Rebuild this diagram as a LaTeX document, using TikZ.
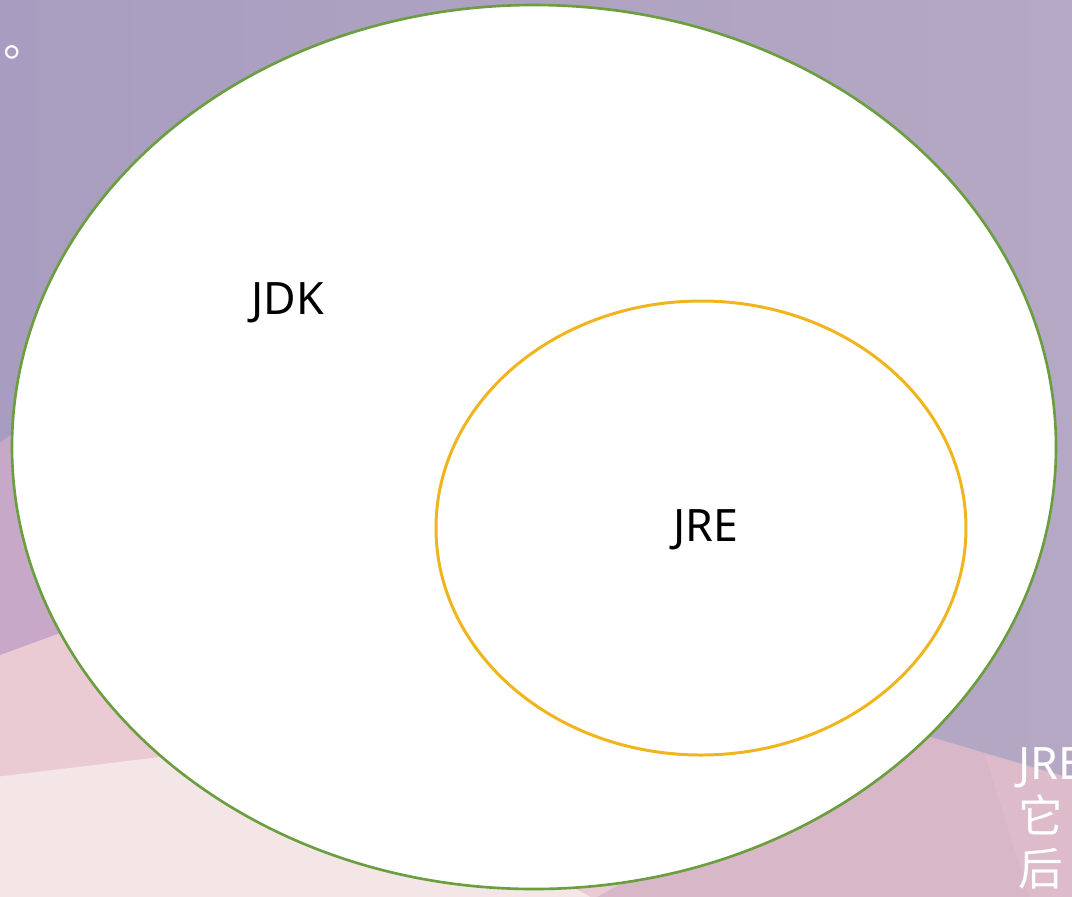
\documentclass[tikz,border=0pt]{standalone}
\usepackage{fontspec}
\setmainfont{Noto Sans}
\newfontfamily\cjk{Noto Sans CJK SC}
\definecolor{bgpurple}{HTML}{A89DC0}
\definecolor{bggrey}{HTML}{B5A8C4}
\definecolor{bgmauve}{HTML}{C8A8C9}
\definecolor{bgpink}{HTML}{EACBD3}
\definecolor{bglight}{HTML}{F4E5E7}
\definecolor{bgrose}{HTML}{D8B8C8}
\definecolor{bgrosy}{HTML}{DDBBCB}
\definecolor{jdkgreen}{HTML}{6A9E3E}
\definecolor{jreorange}{HTML}{F0B51C}
\tikzset{
  label/.style={font=\fontsize{12.7}{15}\selectfont, inner sep=0pt},
  note/.style={text=white, font=\fontsize{12.7}{15}\selectfont, inner sep=0pt}
}

\begin{document}
\begin{tikzpicture}[x=0.01cm,y=-0.01cm]
		\useasboundingbox (0,0) rectangle (1072,896);
		\clip (0,0) rectangle (1072,896);

		% background
		\shade[left color=bgpurple, right color=bggrey] (-5,-5) rectangle (1077,901);
		\fill[bgmauve] (-5,446) -- (40,415) -- (565,901) -- (-5,901) -- cycle;
		\fill[bgpink] (-5,657) -- (300,545) -- (645,901) -- (-5,901) -- cycle;
		\fill[bglight] (-5,777) -- (300,740) -- (598,901) -- (-5,901) -- cycle;
		\fill[bgrose] (590,901) -- (900,728) -- (1077,780) -- (1077,901) -- cycle;
		\fill[bgrosy] (985,755) -- (1077,780) -- (1077,901) -- (1031,901) -- cycle;

		% rings
		\draw[jdkgreen, line width=0.75pt, fill=white] (534,447) ellipse [x radius=522, y radius=442];
		\draw[jreorange, line width=0.85pt] (701,528) ellipse [x radius=265, y radius=227];

		\begin{scope}[every node/.style={label}]
			\node (jdk) at (288,303) {JDK};
			\node (jre) at (706,530) {JRE};
		\end{scope}

		\begin{scope}[every node/.style={note}]
			\node[anchor=base west] (dot) at (3,56) {\cjk 。};
			\node[anchor=base west] (line1) at (1018,779) {JRE};
			\node[anchor=base west] (line2) at (1018,832) {\cjk 它};
			\node[anchor=base west] (line3) at (1018,885) {\cjk 后};
		\end{scope}
		\end{tikzpicture}
\end{document}
